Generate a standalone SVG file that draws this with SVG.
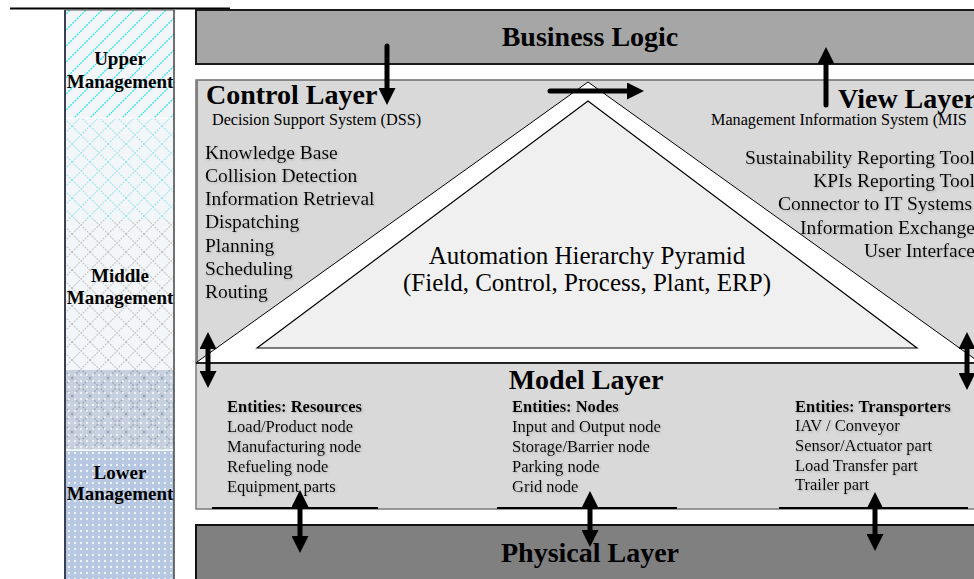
<svg xmlns="http://www.w3.org/2000/svg" width="974" height="579" viewBox="0 0 974 579">
<style>
.t{font-family:"Liberation Serif","Times New Roman",serif;fill:#000}
.h{font-weight:bold;font-size:28px}
.m{font-weight:bold;font-size:19px;text-anchor:middle}
.l{font-size:19.5px}
.s{font-size:16.2px}
.e{font-size:16.5px}
.b{font-weight:bold}
.p{font-size:25px;text-anchor:middle}
.arr{stroke:#000;stroke-width:5;fill:none;stroke-linecap:round}
.sh{filter:url(#sh)}
</style>
<defs>
<filter id="sh" x="-5%" y="-20%" width="110%" height="140%">
<feDropShadow dx="1" dy="1" stdDeviation="0.8" flood-color="#777" flood-opacity="0.45"/>
</filter>
<marker id="ah" markerUnits="userSpaceOnUse" markerWidth="17" markerHeight="17" viewBox="0 0 17 17" refX="6" refY="8.5" orient="auto-start-reverse">
<path d="M0,0 L17,8.5 L0,17 z" fill="#000"/>
</marker>
<pattern id="pDiag" width="16" height="16" patternUnits="userSpaceOnUse">
<rect width="16" height="16" fill="#f3f6f9"/>
<path d="M-2,2 L2,-2 M0,16 L16,0 M14,18 L18,14" stroke="#3fe5f0" stroke-width="1.4" stroke-dasharray="2 1"/>
</pattern>
<pattern id="pXc" width="18" height="18" patternUnits="userSpaceOnUse">
<rect width="18" height="18" fill="#f3f6f9"/>
<path d="M0,0 L18,18 M0,18 L18,0" stroke="#a7e6ec" stroke-width="1.2" stroke-dasharray="2 1"/>
</pattern>
<pattern id="pXg" width="18" height="18" patternUnits="userSpaceOnUse">
<rect width="18" height="18" fill="#f3f6f9"/>
<path d="M0,0 L18,18 M0,18 L18,0" stroke="#c9c9c9" stroke-width="1.2" stroke-dasharray="2 1"/>
</pattern>
<pattern id="pXb" width="18" height="18" patternUnits="userSpaceOnUse">
<rect width="18" height="18" fill="#c6d0de"/>
<path d="M0,0 L18,18 M0,18 L18,0" stroke="#9aa6b6" stroke-width="1.2" stroke-dasharray="2 1"/>
</pattern>
<pattern id="pDot" width="6" height="6" patternUnits="userSpaceOnUse">
<circle cx="3" cy="3" r="1.2" fill="#ffffff"/>
</pattern>
<pattern id="pDotB" width="6" height="6" patternUnits="userSpaceOnUse">
<rect width="6" height="6" fill="#b7c7e1"/>
<circle cx="3" cy="3" r="1.2" fill="#eef3fa"/>
</pattern>
</defs>

<rect width="974" height="579" fill="#ffffff"/>
<line x1="10" y1="8.5" x2="230" y2="8.5" stroke="#000" stroke-width="2"/>

<g id="management-column">
<rect x="64" y="10" width="110" height="108" fill="url(#pDiag)"/>
<rect x="64" y="118" width="110" height="102" fill="url(#pXc)"/>
<rect x="64" y="220" width="110" height="150" fill="url(#pXg)"/>
<rect x="64" y="370" width="110" height="80" fill="url(#pXb)"/>
<rect x="64" y="370" width="110" height="80" fill="url(#pDot)" opacity="0.7"/>
<rect x="64" y="450" width="110" height="129" fill="url(#pDotB)"/>
<line x1="64" y1="118" x2="174" y2="118" stroke="#fff" stroke-width="1"/>
<line x1="64" y1="450" x2="174" y2="450" stroke="#fff" stroke-width="1.5"/>
<line x1="65" y1="10" x2="65" y2="579" stroke="#3a4050" stroke-width="2"/>
<line x1="174" y1="10" x2="174" y2="579" stroke="#444" stroke-width="1.5"/>
<line x1="64" y1="10" x2="174" y2="10" stroke="#555" stroke-width="1"/>
<text class="t m" x="120" y="65">Upper</text>
<text class="t m" x="120" y="88">Management</text>
<text class="t m" x="120" y="282">Middle</text>
<text class="t m" x="120" y="304">Management</text>
<text class="t m" x="120" y="479">Lower</text>
<text class="t m" x="120" y="500">Management</text>
</g>

<g id="business-logic">
<rect x="196" y="10" width="800" height="54" fill="#a6a6a6" stroke="#1a1a1a" stroke-width="2"/>
<text class="t h" x="590" y="46" text-anchor="middle">Business Logic</text>
</g>

<g id="control-view-panel">
<rect x="196" y="80" width="800" height="283" fill="#d9d9d9" stroke="#6e6e6e" stroke-width="1.5"/>
<line x1="197" y1="80" x2="197" y2="363" stroke="#808080" stroke-width="2"/>
</g>

<g id="pyramid">
<polygon points="197,362 588,82 979,362" fill="#ffffff"/>
<polyline points="197,362 588,82 979,362" fill="none" stroke="#000" stroke-width="1"/>
<polygon points="257,348 588,101 917,348" fill="#f0f0f0" stroke="#000" stroke-width="1.2"/>
<text class="t p" x="587" y="264">Automation Hierarchy Pyramid</text>
<text class="t p" x="587" y="291">(Field, Control, Process, Plant, ERP)</text>
</g>

<g id="control-layer">
<text class="t h" x="206" y="104">Control Layer</text>
<text class="t s" x="212" y="125">Decision Support System (DSS)</text>
<g class="sh">
<text class="t l" x="205" y="159">Knowledge Base</text>
<text class="t l" x="205" y="182">Collision Detection</text>
<text class="t l" x="205" y="205">Information Retrieval</text>
<text class="t l" x="205" y="228">Dispatching</text>
<text class="t l" x="205" y="252">Planning</text>
<text class="t l" x="205" y="275">Scheduling</text>
<text class="t l" x="205" y="298">Routing</text>
</g>
</g>

<g id="view-layer">
<text class="t h" x="838" y="108">View Layer</text>
<text class="t s" x="711" y="125">Management Information System (MIS</text>
<g class="sh">
<text class="t l" x="975" y="164" text-anchor="end">Sustainability Reporting Tool</text>
<text class="t l" x="975" y="187" text-anchor="end">KPIs Reporting Tool</text>
<text class="t l" x="972" y="210" text-anchor="end">Connector to IT Systems</text>
<text class="t l" x="975" y="234" text-anchor="end">Information Exchange</text>
<text class="t l" x="975" y="257" text-anchor="end">User Interface</text>
</g>
</g>

<g id="model-layer">
<rect x="196" y="363" width="800" height="146" fill="#d9d9d9" stroke="#7a7a7a" stroke-width="1.5"/>
<line x1="196" y1="363" x2="974" y2="363" stroke="#000" stroke-width="1.5"/>
<line x1="212" y1="508" x2="378" y2="508" stroke="#000" stroke-width="2"/>
<line x1="497" y1="508" x2="677" y2="508" stroke="#000" stroke-width="2"/>
<line x1="779" y1="508" x2="968" y2="508" stroke="#000" stroke-width="2"/>
<text class="t h" x="586" y="389" text-anchor="middle">Model Layer</text>
<g class="sh">
<text class="t e b" x="227" y="412">Entities: Resources</text>
<text class="t e" x="227" y="432">Load/Product node</text>
<text class="t e" x="227" y="452">Manufacturing node</text>
<text class="t e" x="227" y="472">Refueling node</text>
<text class="t e" x="227" y="492">Equipment parts</text>
<text class="t e b" x="512" y="412">Entities: Nodes</text>
<text class="t e" x="512" y="432">Input and Output node</text>
<text class="t e" x="512" y="452">Storage/Barrier node</text>
<text class="t e" x="512" y="472">Parking node</text>
<text class="t e" x="512" y="492">Grid node</text>
<text class="t e b" x="795" y="412">Entities: Transporters</text>
<text class="t e" x="795" y="431">IAV / Conveyor</text>
<text class="t e" x="795" y="451">Sensor/Actuator  part</text>
<text class="t e" x="795" y="471">Load Transfer part</text>
<text class="t e" x="795" y="490">Trailer part</text>
</g>
</g>

<g id="physical-layer">
<rect x="196" y="525" width="800" height="64" fill="#808080" stroke="#111" stroke-width="2"/>
<text class="t h" x="590" y="562" text-anchor="middle">Physical Layer</text>
</g>

<g id="connectors">
<path class="arr" d="M387,46 L387,94" marker-end="url(#ah)"/>
<path class="arr" d="M826,105 L826,58" marker-end="url(#ah)"/>
<path class="arr" d="M550,91 L633,91" marker-end="url(#ah)"/>
<path class="arr" style="stroke-linecap:butt" d="M208,343 L208,377" marker-start="url(#ah)" marker-end="url(#ah)"/>
<path class="arr" style="stroke-linecap:butt" d="M967,343 L967,379" marker-start="url(#ah)" marker-end="url(#ah)"/>
<path class="arr" style="stroke-linecap:butt" d="M300,501 L300,542" marker-start="url(#ah)" marker-end="url(#ah)"/>
<path class="arr" style="stroke-linecap:butt" d="M590,502 L590,536" marker-start="url(#ah)" marker-end="url(#ah)"/>
<path class="arr" style="stroke-linecap:butt" d="M875,503 L875,540" marker-start="url(#ah)" marker-end="url(#ah)"/>
</g>
</svg>
